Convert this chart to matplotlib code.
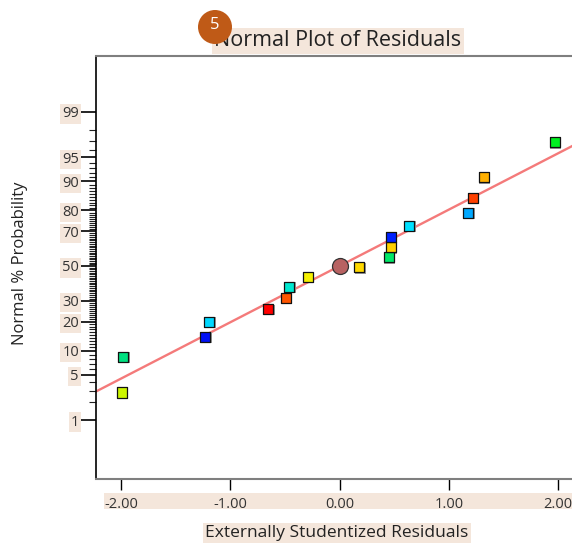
import numpy as np
import matplotlib
matplotlib.use("Agg")
import matplotlib.pyplot as plt
from matplotlib.patches import Rectangle, Circle
from matplotlib.transforms import IdentityTransform, ScaledTranslation
from statistics import NormalDist

plt.rcParams['font.family'] = ['Open Sans', 'DejaVu Sans']
plt.rcParams['axes.unicode_minus'] = False

# ---- data ----
resid_x = [-1.99, -1.98, -1.23, -1.19, -0.65, -0.49, -0.46, -0.29, 0.18,
           0.45, 0.47, 0.47, 0.64, 1.18, 1.22, 1.32, 1.97]
prob_pct = [2.8, 8.5, 14.2, 20.0, 25.8, 31.6, 37.6, 43.4, 49.2,
            55.2, 61.1, 67.1, 72.9, 79.0, 84.9, 91.0, 96.9]
point_colors = ['#ccf500', '#00e080', '#0010f5', '#00d8ff', '#ff0000',
                '#ff5500', '#00e8d0', '#f5f000', '#ffd800',
                '#00e868', '#ffd000', '#0020ff', '#00e0ff', '#00a8ff',
                '#ff4000', '#ffb000', '#00f020']
center_x = [0.0]
center_pct = [50.0]
fit_slope = 0.851      # z per residual unit
fit_intercept = 0.0

ytick_pct = [1, 5, 10, 20, 30, 50, 70, 80, 90, 95, 99]
yminor_pct = [p for p in range(1, 100) if p not in ytick_pct]
xticks = [-2.0, -1.0, 0.0, 1.0, 2.0]

title = "Normal Plot of Residuals"
xlabel = "Externally Studentized Residuals"
ylabel = "Normal % Probability"
badge = "5"

ND = NormalDist()
_ppf = np.vectorize(lambda v: ND.inv_cdf(min(max(v / 100.0, 1e-12), 1 - 1e-12)), otypes=[float])
_cdf = np.vectorize(lambda v: ND.cdf(v) * 100.0, otypes=[float])

def fwd(p):
    return _ppf(np.asarray(p, dtype=float))

def inv(z):
    return _cdf(np.asarray(z, dtype=float))

W, H = 572, 543
fig = plt.figure(figsize=(W / 100, H / 100), dpi=100)
fig.patch.set_facecolor('white')

left, top, bottom, right = 96.3, 56.3, 478.7, 582.7
ax = fig.add_axes([left / W, 1 - bottom / H, (right - left) / W, (bottom - top) / H])
ax.set_yscale('function', functions=(fwd, inv))
ax.set_xlim(-2.225, 2.225)
ax.set_ylim(0.0657, 99.923)

# fit line
lx = np.array(ax.get_xlim())
lz = fit_slope * lx + fit_intercept
ax.plot(lx, inv(lz), color='#f47a7a', lw=1.7, zorder=2, clip_on=True)

# points (shadow + square)
ax.scatter(resid_x, prob_pct, marker='s', s=62, c='#9a9a9a', edgecolors='none',
           zorder=3, transform=ax.transData + ScaledTranslation(1/100, -1/100, fig.dpi_scale_trans))
ax.scatter(resid_x, prob_pct, marker='s', s=52, c=point_colors, edgecolors='#111111',
           linewidths=0.9, zorder=4)
ax.plot(center_x, center_pct, marker='o', ms=11.5, mfc='#b86262', mec='#333333',
        mew=0.9, ls='none', zorder=5)

# spines
ax.spines['right'].set_visible(False)
ax.spines['top'].set_color('#7f7f7f')
ax.spines['top'].set_linewidth(1.5)
ax.spines['bottom'].set_color('#7f7f7f')
ax.spines['bottom'].set_linewidth(1.5)
ax.spines['left'].set_color('black')
ax.spines['left'].set_linewidth(1.2)

# ticks
ax.set_xticks(xticks)
ax.set_xticklabels([f"{v:.2f}" for v in xticks])
ax.set_yticks(ytick_pct)
ax.set_yticklabels([str(p) for p in ytick_pct])
ax.set_yticks(yminor_pct, minor=True)
ax.tick_params(axis='x', which='major', direction='out', length=8, width=1,
               color='black', pad=5, labelsize=10.5, labelcolor='#333333')
ax.tick_params(axis='y', which='major', direction='out', length=11, width=1.2,
               color='black', pad=1.5, labelsize=10.5, labelcolor='#333333')
ax.tick_params(axis='y', which='minor', direction='out', length=5, width=0.8,
               color='#222222')
for lab in ax.get_yticklabels():
    lab.set_bbox(dict(facecolor='#f4e6db', edgecolor='none', pad=1.5))

# beige band behind x tick labels
fig.patches.append(Rectangle((104 / W, 1 - 509 / H), 1 - 104 / W, 16 / H,
                             transform=fig.transFigure, facecolor='#f4e6db',
                             edgecolor='none', zorder=-10))

# axis labels
fig.text(337 / W, 1 - 533 / H, xlabel, ha='center', va='center', fontsize=12.5,
         color='#222222', bbox=dict(facecolor='#f4e6db', edgecolor='none', pad=1.5))
fig.text(20 / W, 1 - 263 / H, ylabel, ha='center', va='center', rotation=90,
         fontsize=12, color='#222222')

# title
fig.text(338 / W, 1 - 41 / H, title, ha='center', va='center', fontsize=15.5,
         color='#222222', bbox=dict(facecolor='#f4e6db', edgecolor='none', pad=1.5))

# badge
fig.patches.append(Circle((215, H - 27), 17, transform=IdentityTransform(),
                          facecolor='#bf5a17', edgecolor='none', zorder=10))
fig.text(215 / W, 1 - 25 / H, badge, ha='center', va='center', fontsize=12,
         color='white', zorder=11)

fig.savefig('out.png', dpi=100)
